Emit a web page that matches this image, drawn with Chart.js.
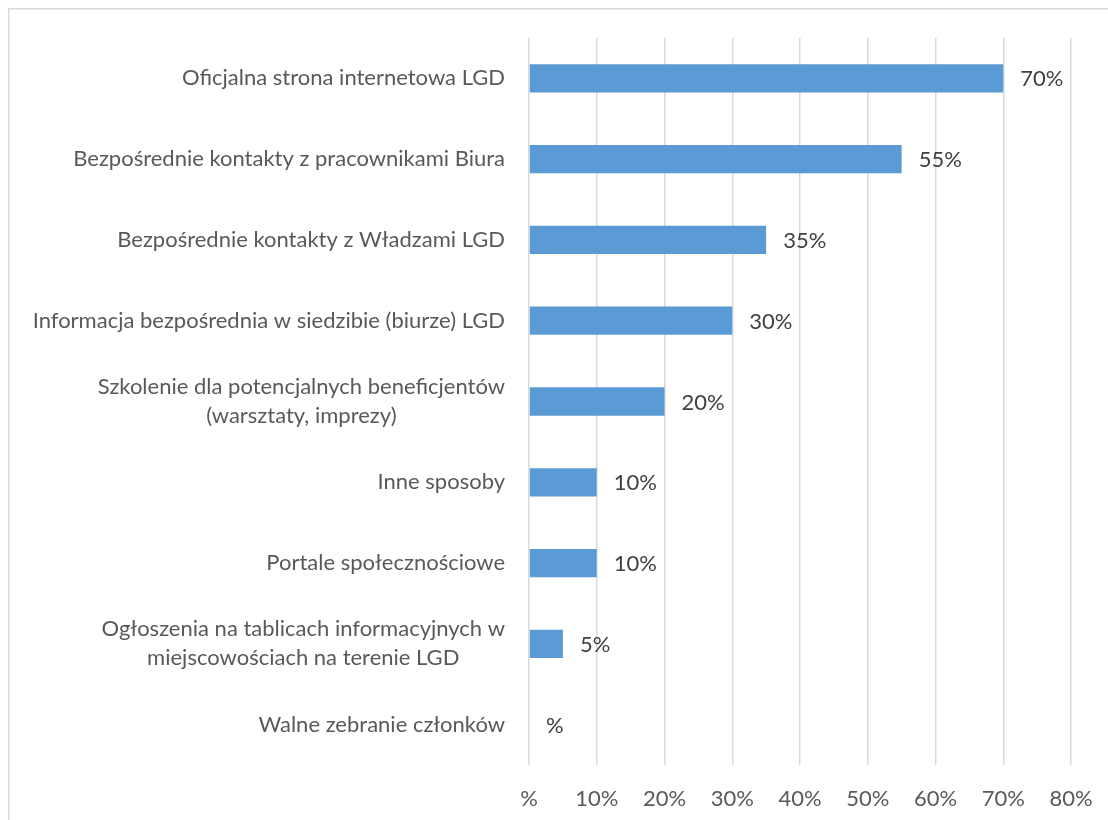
<!DOCTYPE html>
<html>
<head>
<meta charset="utf-8">
<script src="https://cdn.jsdelivr.net/npm/chart.js@4.4.1/dist/chart.umd.min.js"></script>
<style>
  html, body { margin: 0; padding: 0; background: #fff; overflow: hidden; }
  #wrap { position: absolute; left: 0; top: 0; width: 1108px; height: 820px; }
</style>
</head>
<body>
<div id="wrap"><canvas id="chart"></canvas></div>
<script>
// kategorie (linie etykiet osi Y)
const categories = [
    ['Oficjalna strona internetowa LGD'],
    ['Bezpośrednie kontakty z pracownikami Biura'],
    ['Bezpośrednie kontakty z Władzami LGD'],
    ['Informacja bezpośrednia w siedzibie (biurze) LGD'],
    ['Szkolenie dla potencjalnych beneficjentów', '(warsztaty, imprezy)'],
    ['Inne sposoby'],
    ['Portale społecznościowe'],
    ['Ogłoszenia na tablicach informacyjnych w', 'miejscowościach na terenie LGD'],
    ['Walne zebranie członków']
];
const values = [70, 55, 35, 30, 20, 10, 10, 5, 0];
const xTickLabels = ['%', '10%', '20%', '30%', '40%', '50%', '60%', '70%', '80%'];

const FONT = 'Lato, "Noto Sans", sans-serif';
const FONT_SIZE = 22;

// format jak w Excelu: 0 -> "%"
const pct = (v) => (v === 0 ? '%' : v + '%');

// ramka (tylko lewa i gorna krawedz widoczna)
const frame = {
    id: 'frame',
    beforeDraw(chart) {
        const ctx = chart.ctx;
        ctx.save();
        ctx.strokeStyle = '#d9d9d9';
        ctx.lineWidth = 1.5;
        ctx.beginPath();
        ctx.moveTo(8.75, chart.height);
        ctx.lineTo(8.75, 8.75);
        ctx.lineTo(chart.width, 8.75);
        ctx.stroke();
        ctx.restore();
    }
};

// etykiety kategorii - wyrownane do prawej, wiersze wysrodkowane
const catLabels = {
    id: 'catLabels',
    afterDraw(chart) {
        const ctx = chart.ctx;
        const y = chart.scales.y;
        const right = chart.chartArea.left - 24;
        ctx.save();
        ctx.font = FONT_SIZE + 'px ' + FONT;
        ctx.fillStyle = '#595959';
        ctx.textAlign = 'center';
        ctx.textBaseline = 'middle';
        const lh = 29;
        categories.forEach((lines, i) => {
            const widest = Math.max(...lines.map((l) => ctx.measureText(l).width));
            const cx = right - widest / 2;
            const cy = y.getPixelForValue(i);
            const top = cy - (lines.length - 1) * lh / 2;
            lines.forEach((l, j) => ctx.fillText(l, cx, top + j * lh));
        });
        ctx.restore();
    }
};

// etykiety wartosci przy slupkach
const valueLabels = {
    id: 'valueLabels',
    afterDatasetsDraw(chart) {
        const ctx = chart.ctx;
        const meta = chart.getDatasetMeta(0);
        ctx.save();
        ctx.font = FONT_SIZE + 'px ' + FONT;
        ctx.fillStyle = '#404040';
        ctx.textAlign = 'left';
        ctx.textBaseline = 'middle';
        meta.data.forEach((bar, i) => {
            ctx.fillText(pct(values[i]), bar.x + 17, bar.y + 1);
        });
        ctx.restore();
    }
};

new Chart(document.getElementById('chart'), {
    type: 'bar',
    data: {
        labels: categories,
        datasets: [{
            data: values,
            backgroundColor: '#5b9bd5',
            borderWidth: 0,
            categoryPercentage: 1,
            barPercentage: 0.35
        }]
    },
    options: {
        indexAxis: 'y',
        responsive: true,
        maintainAspectRatio: false,
        animation: false,
        layout: { padding: { top: 38, right: 37, bottom: 0, left: 0 } },
        plugins: {
            legend: { display: false },
            tooltip: { enabled: false }
        },
        scales: {
            x: {
                min: 0,
                max: 80,
                ticks: {
                    stepSize: 10,
                    padding: 21,
                    color: '#595959',
                    font: { family: FONT, size: FONT_SIZE },
                    callback: (v, idx) => xTickLabels[idx]
                },
                grid: { color: '#d9d9d9', lineWidth: 1.5, drawTicks: false },
                border: { display: false },
                afterFit: (scale) => {
                    scale.height = 55;
                    scale.paddingLeft = 0;
                    scale.paddingRight = 0;
                }
            },
            y: {
                ticks: { display: false },
                grid: { display: false },
                border: { display: false },
                afterFit: (scale) => { scale.width = 529; }
            }
        }
    },
    plugins: [frame, catLabels, valueLabels]
});
</script>
</body>
</html>
